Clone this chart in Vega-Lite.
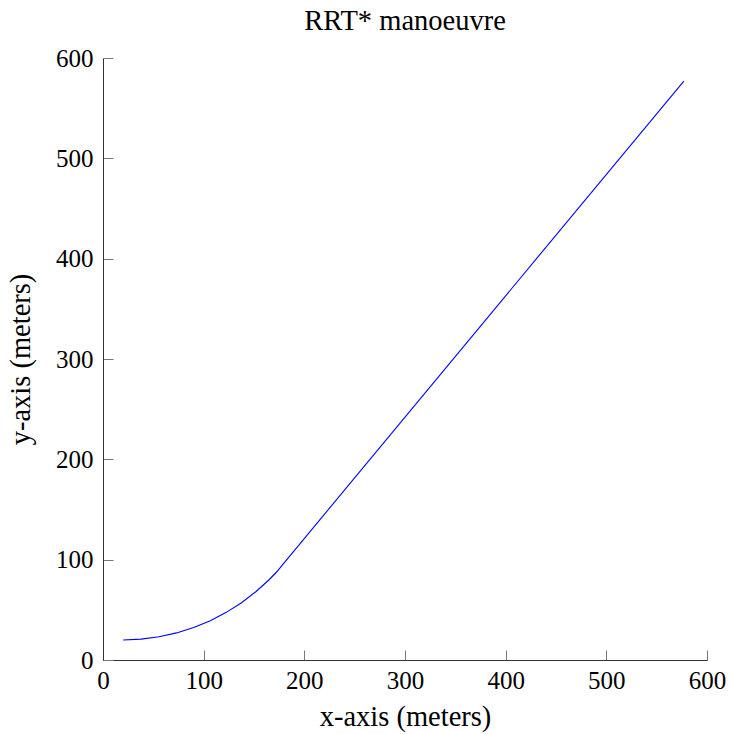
{
  "$schema": "https://vega.github.io/schema/vega-lite/v6.json",
  "width": 604,
  "height": 602,
  "autosize": {"type": "none"},
  "padding": {"left": 103, "top": 58, "right": 24, "bottom": 74},
  "background": "white",
  "config": {
    "view": {"stroke": null},
    "font": "Liberation Serif"
  },
  "title": {
    "text": "RRT* manoeuvre",
    "frame": "group",
    "anchor": "middle",
    "baseline": "alphabetic",
    "offset": -12,
    "fontSize": 28.5,
    "fontWeight": "normal",
    "font": "Liberation Serif",
    "color": "#000"
  },
  "data": {
    "values": [
      {"x": 20, "y": 20},
      {"x": 37.9, "y": 20.8},
      {"x": 55.6, "y": 23.1},
      {"x": 73.1, "y": 27.0},
      {"x": 90.1, "y": 32.4},
      {"x": 106.6, "y": 39.2},
      {"x": 122.5, "y": 47.5},
      {"x": 137.6, "y": 57.1},
      {"x": 151.8, "y": 68.0},
      {"x": 165.0, "y": 80.0},
      {"x": 172.0, "y": 87.2},
      {"x": 177.9, "y": 94.4},
      {"x": 577, "y": 577}
    ]
  },
  "mark": {"type": "line", "color": "#0000ff", "strokeWidth": 1.1},
  "encoding": {
    "x": {
      "field": "x",
      "type": "quantitative",
      "scale": {"domain": [0, 600], "nice": false, "zero": false},
      "axis": {
        "title": "x-axis (meters)",
        "values": [0, 100, 200, 300, 400, 500, 600],
        "grid": false,
        "tickSize": -10,
        "tickColor": "#777",
        "domainColor": "#333",
        "labelFlush": false,
        "labelOverlap": false,
        "labelFont": "Liberation Serif",
        "labelFontSize": 25,
        "labelColor": "#000",
        "labelPadding": 18,
        "titleFont": "Liberation Serif",
        "titleFontSize": 28.5,
        "titleFontWeight": "normal",
        "titleColor": "#000",
        "titleX": 302,
        "titleY": 65,
        "titleBaseline": "alphabetic",
        "titleAlign": "center"
      }
    },
    "y": {
      "field": "y",
      "type": "quantitative",
      "scale": {"domain": [0, 600], "nice": false, "zero": false},
      "axis": {
        "title": "y-axis (meters)",
        "values": [0, 100, 200, 300, 400, 500, 600],
        "grid": false,
        "tickSize": -10,
        "tickColor": "#777",
        "domainColor": "#333",
        "labelFlush": false,
        "labelOverlap": false,
        "labelFont": "Liberation Serif",
        "labelFontSize": 25,
        "labelColor": "#000",
        "labelPadding": 20,
        "titleFont": "Liberation Serif",
        "titleFontSize": 28.5,
        "titleFontWeight": "normal",
        "titleColor": "#000",
        "titleX": -83,
        "titleY": 301,
        "titleAngle": -90,
        "titleBaseline": "middle",
        "titleAlign": "center"
      }
    }
  }
}
